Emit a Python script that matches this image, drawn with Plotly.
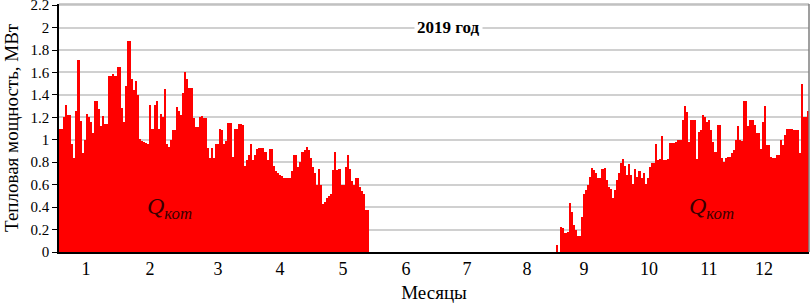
import plotly.graph_objects as go

# Daily heat output of the boiler house, MW, by month
jan = [1.1, 1.1, 1.2, 1.31, 1.22, 1.22, 0.96, 0.84, 1.26, 1.71, 1.17, 0.88, 1.0, 1.23, 1.2, 1.16,
       1.06, 1.35, 1.35, 1.27, 1.12, 1.21, 1.14, 1.14, 1.57, 1.57, 1.59, 1.57, 1.65, 1.65, 1.28]
feb = [1.16, 1.48, 1.88, 1.88, 1.54, 1.44, 1.52, 1.40, 1.01, 0.99, 0.98, 0.97, 0.96, 1.31,
       1.1, 1.31, 1.35, 1.1, 1.23, 1.2, 1.45, 0.96, 0.94, 1.0, 1.09, 1.09, 1.29, 1.26]
mar = [1.22, 1.42, 1.60, 1.54, 1.46, 1.46, 1.19, 1.11, 1.11, 1.2, 1.21, 1.19, 1.19, 0.93, 0.84,
       0.93, 0.84, 0.96, 0.96, 1.1, 1.09, 0.96, 0.99, 1.15, 1.15, 0.85, 1.1, 1.1, 1.14, 1.14, 1.13]
apr = [0.77, 0.82, 0.86, 0.96, 0.82, 0.86, 0.92, 0.93, 0.93, 0.93, 0.89, 0.82, 0.92, 0.92, 0.77,
       0.72, 0.70, 0.69, 0.68, 0.66, 0.66, 0.66, 0.66, 0.72, 0.86, 0.86, 0.76, 0.80, 0.89, 0.91]
may = [0.94, 0.91, 0.84, 0.76, 0.70, 0.60, 0.74, 0.60, 0.43, 0.45, 0.48, 0.50, 0.52, 0.73, 0.89,
       0.73, 0.74, 0.60, 0.60, 0.76, 0.86, 0.74, 0.63, 0.60, 0.66, 0.66, 0.58, 0.54, 0.52, 0.37, 0.37]
jun = [0.0] * 30
jul = [0.0] * 31
aug = [0.0] * 30 + [0.06]
sep = [0.0, 0.22, 0.21, 0.17, 0.18, 0.44, 0.36, 0.24, 0.2, 0.14, 0.14, 0.31, 0.52, 0.55, 0.6,
       0.67, 0.75, 0.73, 0.7, 0.66, 0.66, 0.74, 0.75, 0.64, 0.58, 0.56, 0.48, 0.55, 0.64, 0.7]
oct_ = [0.79, 0.83, 0.77, 0.69, 0.78, 0.69, 0.61, 0.74, 0.67, 0.72, 0.66, 0.70, 0.61, 0.66, 0.76,
        0.79, 0.79, 0.96, 0.82, 0.83, 1.03, 0.82, 0.82, 0.83, 0.97, 0.97, 0.97, 0.98, 1.0, 1.0, 1.18]
nov = [1.30, 1.25, 0.98, 1.18, 1.18, 1.18, 0.83, 1.07, 1.09, 1.22, 1.2, 1.16, 1.18, 1.09, 0.98,
       0.89, 1.13, 1.13, 0.84, 0.80, 0.84, 0.85, 0.85, 0.88, 0.91, 1.0, 1.12, 1.0, 0.99, 1.35]
dec = [1.35, 1.12, 1.18, 1.18, 1.13, 1.06, 1.06, 0.92, 1.16, 1.3, 0.95, 0.95, 0.85, 0.84, 0.84,
       0.86, 0.86, 1.0, 0.95, 1.04, 1.1, 1.1, 1.1, 1.09, 1.09, 1.09, 0.88, 1.5, 1.2, 1.2, 1.26]

month_labels = ["1", "2", "3", "4", "5", "6", "7", "8", "9", "10", "11", "12"]
month_tick_pos = [13.6, 44.8, 77.9, 108, 138.7, 169.4, 199, 228.2, 256, 287.6, 316.8, 343.6]
y_ticks = [0, 0.2, 0.4, 0.6, 0.8, 1, 1.2, 1.4, 1.6, 1.8, 2, 2.2]
y_tick_labels = ["0", "0.2", "0.4", "0.6", "0.8", "1", "1.2", "1.4", "1.6", "1.8", "2", "2.2"]

q_kot = jan + feb + mar + apr + may + jun + jul + aug + sep + oct_ + nov + dec
days = list(range(1, len(q_kot) + 1))

FONT = "Liberation Serif, DejaVu Serif, serif"

fig = go.Figure()
fig.add_trace(go.Bar(x=days, y=q_kot, marker=dict(color="#ff0000", line=dict(width=0)),
                     showlegend=False, hoverinfo="skip"))

fig.update_layout(
    width=810, height=306,
    margin=dict(l=59, r=1, t=4, b=54),
    paper_bgcolor="white", plot_bgcolor="white",
    bargap=0,
    font=dict(family=FONT, color="black", size=15),
    xaxis=dict(range=[0.5, 365.5], tickmode="array", tickvals=month_tick_pos,
               ticktext=month_labels, showgrid=False, zeroline=False, automargin=False,
               showline=True, linecolor="black", linewidth=1.5, ticks="",
               tickfont=dict(size=18, family=FONT),
               title=dict(text="Месяцы", font=dict(size=19, family=FONT), standoff=7)),
    yaxis=dict(range=[0, 2.21], tickmode="array", tickvals=y_ticks, ticktext=y_tick_labels,
               showgrid=True, gridcolor="#d0d0d0", ticklabeloverflow="allow",
               gridwidth=1.5, zeroline=False, showline=True, linecolor="black", linewidth=1.5,
               ticks="outside", ticklen=5, tickcolor="black", automargin=False,
               tickfont=dict(size=15, family=FONT)),
    shapes=[dict(type="line", xref="paper", yref="paper", x0=0, x1=1, y0=1, y1=1,
                 line=dict(color="#bdbdbd", width=1.5)),
            dict(type="line", xref="paper", yref="paper", x0=1, x1=1, y0=0, y1=1,
                 line=dict(color="#7f7f7f", width=1.5))],
    annotations=[
        dict(x=0, xref="paper", xshift=-48, y=0.5, yref="paper", yshift=0,
             text="Тепловая мощность, МВт", textangle=-90, showarrow=False,
             xanchor="center", yanchor="middle", font=dict(size=19, family=FONT)),
        dict(x=0.519, xref="paper", y=2.0, yref="y", text="<b>2019 год</b>", showarrow=False,
             bgcolor="white", font=dict(size=17, family=FONT), borderpad=2),
        dict(x=54.5, y=0.39, xref="x", yref="y", text="<i>Q<sub>кот</sub></i>", showarrow=False,
             font=dict(size=24, family=FONT, color="#3a0000")),
        dict(x=318, y=0.39, xref="x", yref="y", text="<i>Q<sub>кот</sub></i>", showarrow=False,
             font=dict(size=24, family=FONT, color="#3a0000")),
    ],
)

fig.write_html("out.html", config={"displayModeBar": False},
               post_script="document.body.style.margin='0';")
